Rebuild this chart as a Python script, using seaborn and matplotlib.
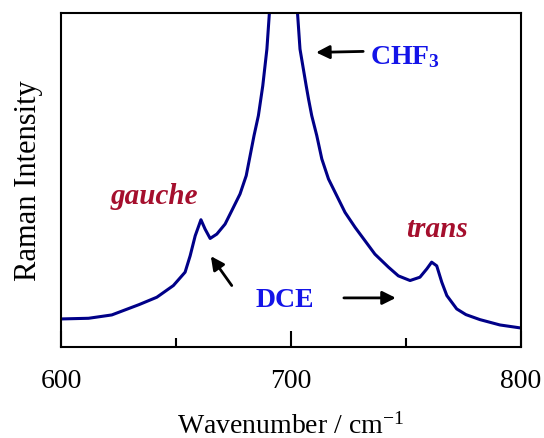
import numpy as np
import pandas as pd
import matplotlib
matplotlib.use("Agg")
import matplotlib.pyplot as plt
import seaborn as sns

# Raman spectrum (wavenumber / cm^-1, relative intensity)
wavenumber = [600.0, 612.0, 622.1, 634.0, 641.7, 648.9, 654.0, 656.2, 658.4, 660.9,
              662.7, 664.9, 667.8, 671.4, 674.3, 677.9, 680.6, 682.3, 684.0, 685.9,
              687.8, 689.6, 690.7, 696.5, 702.9, 704.0, 706.7, 707.7, 709.1, 711.3,
              713.5, 716.4, 720.0, 723.6, 728.0, 732.3, 736.6, 742.5, 746.8, 751.9,
              756.2, 759.2, 761.3, 763.5, 765.7, 767.9, 772.2, 776.2, 782.3, 791.0,
              800.0]
intensity = [0.084, 0.086, 0.096, 0.127, 0.149, 0.184, 0.224, 0.273, 0.333, 0.381,
             0.353, 0.325, 0.338, 0.368, 0.408, 0.458, 0.513, 0.573, 0.633, 0.693,
             0.782, 0.892, 1.002, 2.500, 1.002, 0.892, 0.782, 0.743, 0.693, 0.633,
             0.563, 0.503, 0.453, 0.403, 0.358, 0.318, 0.278, 0.239, 0.213, 0.199,
             0.209, 0.234, 0.254, 0.243, 0.194, 0.154, 0.114, 0.097, 0.082, 0.066,
             0.057]

x_ticks = [600, 700, 800]
x_minor = [650, 750]

sns.set_style("white")
plt.rcParams['font.family'] = ['Liberation Serif', 'DejaVu Serif']
plt.rcParams['mathtext.fontset'] = 'custom'
plt.rcParams['mathtext.rm'] = 'Liberation Serif'
plt.rcParams['mathtext.bf'] = 'Liberation Serif:bold'
plt.rcParams['mathtext.it'] = 'Liberation Serif:italic'
plt.rcParams['text.color'] = 'black'
plt.rcParams['axes.labelcolor'] = 'black'
plt.rcParams['xtick.color'] = 'black'

df = pd.DataFrame({"wn": wavenumber, "I": intensity})

fig = plt.figure(figsize=(5.44, 4.39), dpi=100)
ax = fig.add_axes([61 / 544, 1 - 348 / 439, (520.6 - 61) / 544, (348 - 14) / 439])

sns.lineplot(data=df, x="wn", y="I", ax=ax, color="#000088", lw=2.2, sort=False)

ax.set_xlim(600, 800)
ax.set_ylim(0, 1.0)
ax.set_xticks(x_ticks)
ax.set_xticklabels([str(t) for t in x_ticks])
ax.set_xticks(x_minor, minor=True)
ax.set_yticks([])
ax.tick_params(axis='x', which='major', direction='in', length=11.5, width=1.5,
               labelsize=20, pad=15, colors='black', bottom=True, top=False)
ax.tick_params(axis='x', which='minor', direction='in', length=6.5, width=1.5,
               bottom=True, top=False, colors='black')
for s in ax.spines.values():
    s.set_linewidth(1.5)
    s.set_color('black')
    s.set_visible(True)

ax.set_xlabel(r"Wavenumber / cm$^{-1}$", fontsize=20, labelpad=14, color='black')
ax.set_ylabel("Raman Intensity", fontsize=22, labelpad=13, color='black')

red = "#A50F2D"
blue = "#1414E8"
arrow = dict(arrowstyle='-|>', color='black', lw=2.0, mutation_scale=20,
             shrinkA=0, shrinkB=0)

ax.text(734.4, 0.872, r"CHF$_{\mathbf{3}}$", color=blue, fontsize=20,
        fontweight='bold', ha='left', va='center')
ax.annotate("", xy=(711.0, 0.882), xytext=(731.5, 0.885), arrowprops=arrow)

ax.text(640.5, 0.455, "gauche", color=red, fontsize=21, fontweight='bold',
        fontstyle='italic', ha='center', va='center')
ax.annotate("", xy=(665.2, 0.272), xytext=(674.3, 0.184), arrowprops=arrow)

ax.text(763.8, 0.356, "trans", color=red, fontsize=21, fontweight='bold',
        fontstyle='italic', ha='center', va='center')

ax.text(697.3, 0.141, "DCE", color=blue, fontsize=20, fontweight='bold',
        ha='center', va='center')
ax.annotate("", xy=(745.7, 0.147), xytext=(723.1, 0.147), arrowprops=arrow)

fig.savefig("out.png", dpi=100)
